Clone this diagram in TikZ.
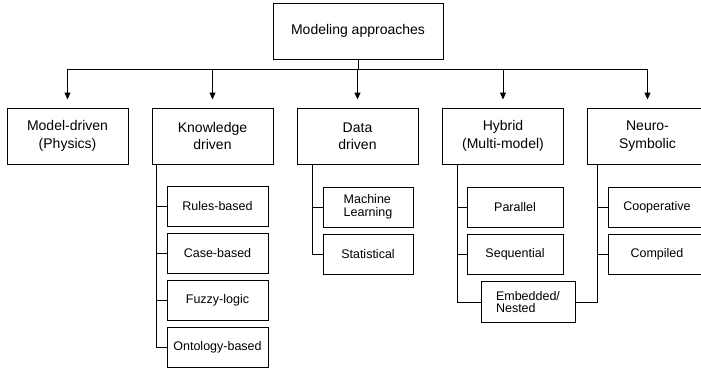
\documentclass[tikz,border=0pt]{standalone}
\usepackage{fontspec}
\setmainfont{Liberation Sans}
\usetikzlibrary{arrows.meta}
\begin{document}
\begin{tikzpicture}[x=1pt,y=-1pt,line width=1pt,
  box/.style={draw,rectangle,inner sep=0pt,align=center},
  mainbox/.style={box,minimum width=121pt,minimum height=56pt,font=\fontsize{14}{17.5}\selectfont},
  kidbox/.style={box,minimum height=40pt,font=\fontsize{12.5}{12.5}\selectfont},
  arr/.style={-{Triangle[width=6pt,length=7pt]},shorten >=8pt}]
\useasboundingbox (0,0) rectangle (701,367);
\clip (0,0) rectangle (701,367);
% top
\node[box,minimum width=170pt,minimum height=56pt,font=\fontsize{14}{17.5}\selectfont] (top) at (358,31) {Modeling approaches};
% level 1
\node[mainbox] (c1) at (67.5,136) {Model-driven\\(Physics)};
\node[mainbox] (c2) at (212.5,136) {Knowledge\\driven};
\node[mainbox] (c3) at (357.5,136) {Data\\driven};
\node[mainbox] (c4) at (503,136) {Hybrid\\(Multi-model)};
\node[mainbox] (c5) at (647.5,136) {Neuro-\\Symbolic};
% connectors from top
\coordinate (j) at (358,69);
\draw (top.south) -- (top.south |- j);
\draw (c1 |- j) -- (c5 |- j);
\foreach \c in {c1,c2,c3,c4,c5} \draw[arr] (\c |- j) -- (\c);
% knowledge children
\node[kidbox,minimum width=101pt] (k1) at (217.5,206) {Rules-based};
\node[kidbox,minimum width=101pt] (k2) at (217.5,253) {Case-based};
\node[kidbox,minimum width=101pt] (k3) at (217.5,300.5) {Fuzzy-logic};
\node[kidbox,minimum width=101pt] (k4) at (217.5,347.5) {Ontology-based};
\coordinate (kt) at ([xshift=5pt]c2.south west);
\draw (kt) |- (k4.west);
\foreach \k in {k1,k2,k3} \draw (\k.west) -- (\k.west -| kt);
% data children
\node[kidbox,minimum width=90pt,align=left] (d1) at (368,207) {Machine\\Learning};
\node[kidbox,minimum width=90pt] (d2) at (368,254) {Statistical};
\coordinate (dt) at ([xshift=16pt]c3.south west);
\draw (dt) |- (d2.west);
\draw (d1.west) -- (d1.west -| dt);
% hybrid children
\node[kidbox,minimum width=96pt] (h1) at (515,207.5) {Parallel};
\node[kidbox,minimum width=96pt] (h2) at (515,254) {Sequential};
\node[kidbox,minimum width=94pt,minimum height=41pt,align=left] (h3) at (528,302) {Embedded/\\Nested};
\coordinate (ht) at ([xshift=15pt]c4.south west);
\draw (ht) |- (h3.west);
\foreach \k in {h1,h2} \draw (\k.west) -- (\k.west -| ht);
% neuro-symbolic children
\node[kidbox,minimum width=98pt] (n1) at (657,207.5) {Cooperative};
\node[kidbox,minimum width=98pt] (n2) at (657,254) {Compiled};
\coordinate (nt) at ([xshift=11pt]c5.south west);
\draw (nt) |- (h3.east);
\foreach \k in {n1,n2} \draw (\k.west) -- (\k.west -| nt);
\end{tikzpicture}
\end{document}
